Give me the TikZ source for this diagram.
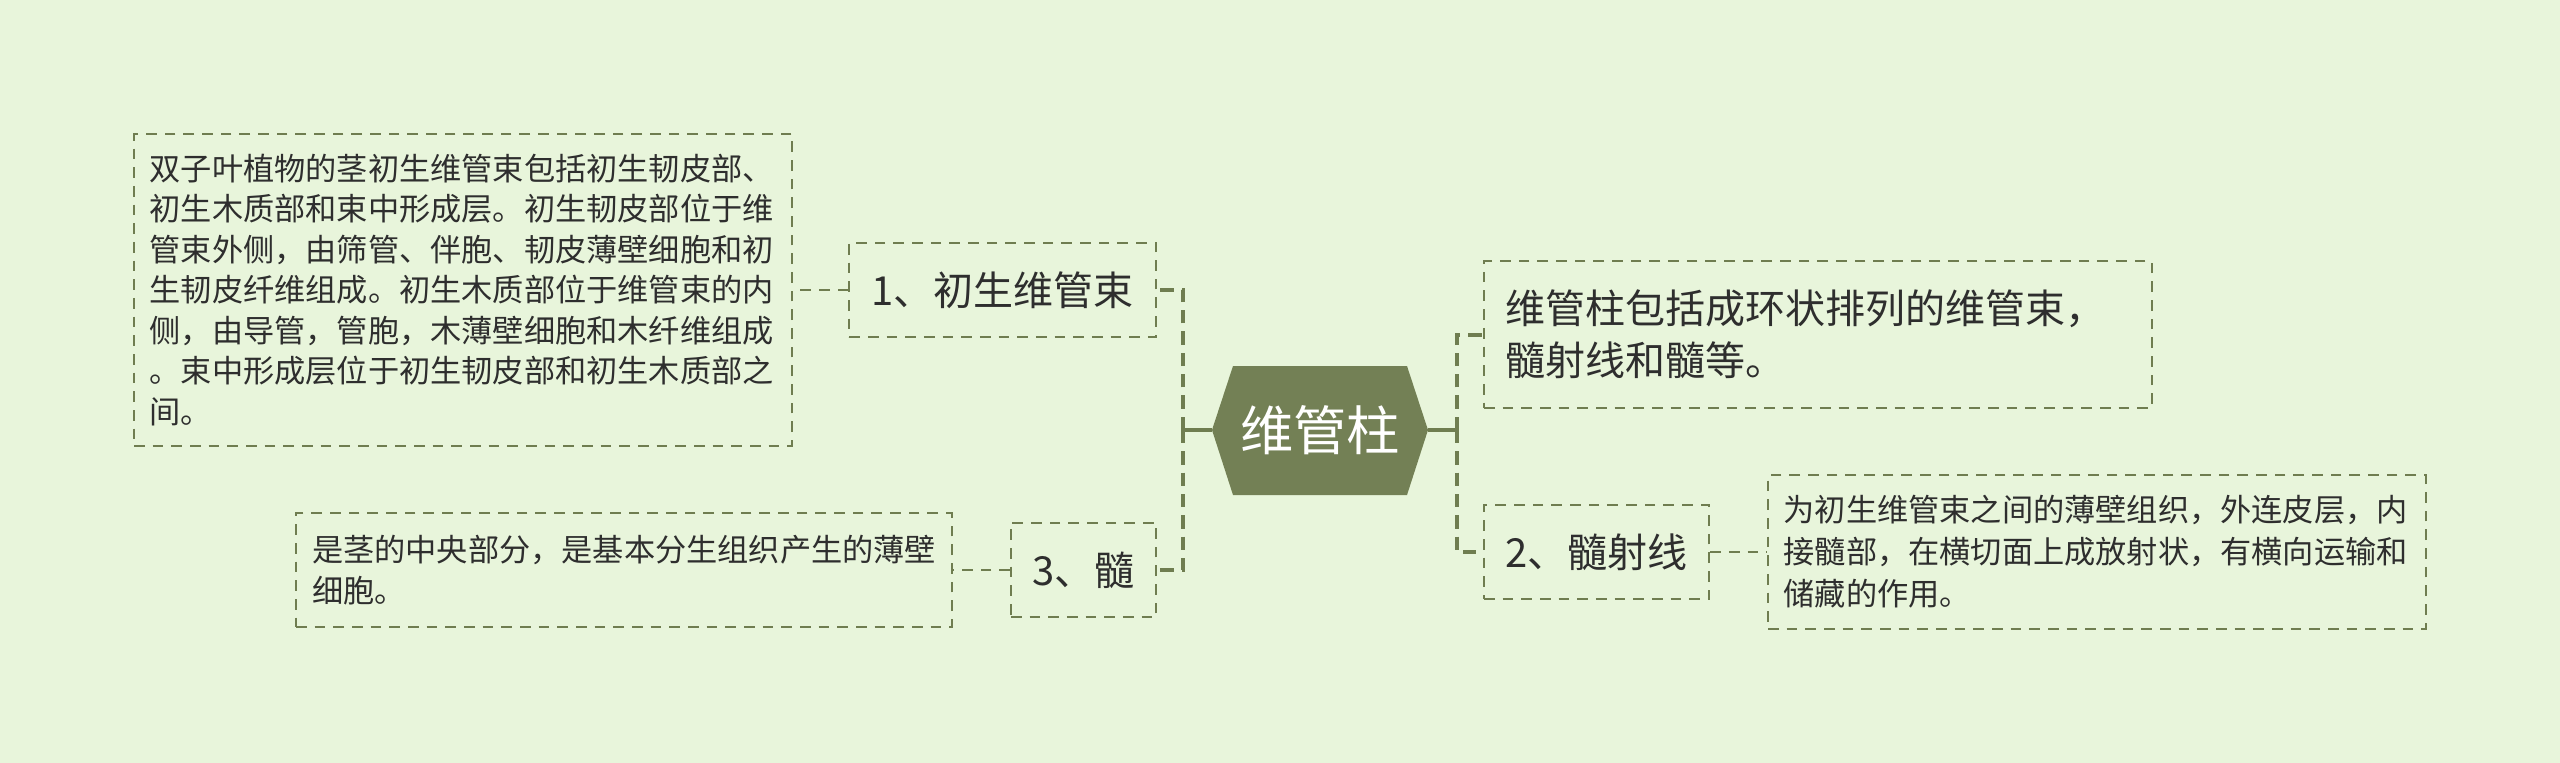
\documentclass[tikz,border=0pt]{standalone}
\usepackage{fontspec}
\newfontfamily\cjk{Noto Sans CJK SC}
\definecolor{bg}{HTML}{E8F5DB}
\definecolor{ln}{HTML}{6F7D50}
\definecolor{hexf}{HTML}{738055}
\definecolor{tx}{HTML}{2E2E2E}
\tikzset{
  box/.style={draw=ln, line width=1.5pt, dash pattern=on 8pt off 6pt, text=tx, inner sep=0pt},
  smalltext/.style={font=\cjk\fontsize{23.4pt}{30.4pt}\selectfont, align=left},
  bigtext/.style={font=\cjk\fontsize{30pt}{39pt}\selectfont, align=left},
  conn/.style={draw=ln, line width=3pt, dash pattern=on 10pt off 6pt},
  stub/.style={draw=ln, line width=3pt},
  link/.style={draw=ln, line width=1.5pt, dash pattern=on 8pt off 6pt},
}
\begin{document}
\begin{tikzpicture}[x=0.75pt,y=-0.75pt]
\fill[bg] (0,0) rectangle (2560,763);
\useasboundingbox (0,0) rectangle (2560,763);

% central hexagon
\coordinate (hl) at (1212,430);
\coordinate (hr) at (1428,430);
\fill[hexf] (hl) -- (1233,366) -- (1407,366) -- (hr) -- (1407,495) -- (1233,495) -- cycle;
\node[text=white, font=\cjk\fontsize{40pt}{48pt}\selectfont] (c) at (1320,430) {维管柱};

% left side
\node[box, bigtext, minimum width=230pt, minimum height=71pt] (n1) at (1002.5,290) {1、初生维管束};
\node[box, smalltext, text width=470pt, minimum width=493.5pt, minimum height=234pt] (b1) at (463,290) {双子叶植物的茎初生维管束包括初生韧皮部、\\初生木质部和束中形成层。初生韧皮部位于维\\管束外侧，由筛管、伴胞、韧皮薄壁细胞和初\\生韧皮纤维组成。初生木质部位于维管束的内\\侧，由导管，管胞，木薄壁细胞和木纤维组成\\。束中形成层位于初生韧皮部和初生木质部之\\间。};

\node[box, bigtext, minimum width=109pt, minimum height=71pt] (n3) at (1083.5,570) {3、髓};
\node[box, smalltext, text width=468pt, minimum width=492pt, minimum height=85.5pt] (b3) at (624,570) {是茎的中央部分，是基本分生组织产生的薄壁\\细胞。};

% right side
\node[box, bigtext, text width=469.5pt, minimum width=501pt, minimum height=110pt] (tr) at (1818,334.5) {维管柱包括成环状排列的维管束，\\髓射线和髓等。};
\node[box, bigtext, minimum width=169pt, minimum height=70.5pt] (n2) at (1596.5,552) {2、髓射线};
\node[box, font=\cjk\fontsize{23.4pt}{31.5pt}\selectfont, align=left, text width=470pt, minimum width=493.5pt, minimum height=115pt] (b2) at (2097,552) {为初生维管束之间的薄壁组织，外连皮层，内\\接髓部，在横切面上成放射状，有横向运输和\\储藏的作用。};

% connectors
\coordinate (lj) at (1183,430);
\coordinate (rj) at (1457,430);
\draw[stub] (hl) -- (lj);
\draw[stub] (hr) -- (rj);
\draw[conn] (lj) |- (n1.east);
\draw[conn] (lj) |- (n3.east);
\draw[conn] (rj) |- (tr.west);
\draw[conn] (rj) |- (n2.west);
\draw[link] (n1.west) -- (b1.east);
\draw[link] (n3.west) -- (b3.east);
\draw[link] (n2.east) -- (b2.west);
\end{tikzpicture}
\end{document}
